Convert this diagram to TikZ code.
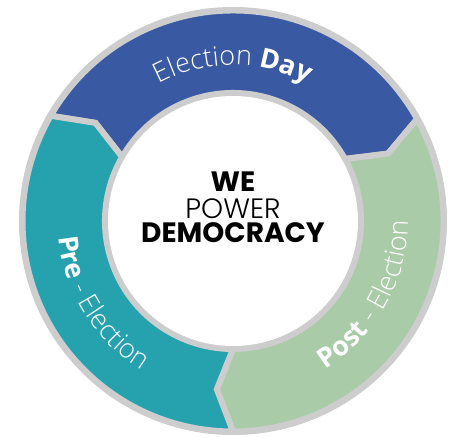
\documentclass[tikz,border=0pt]{standalone}
\usepackage{fontspec}
\setmainfont{Open Sans}
\newfontfamily\popfont{Poppins}
\IfFontExistsTF{Poppins Light}{\newfontfamily\poplight{Poppins Light}}{\newfontfamily\poplight{Poppins}}
\IfFontExistsTF{Open Sans Light}{\newfontfamily\ringlight{Open Sans Light}}{\newfontfamily\ringlight{Open Sans}}
\usetikzlibrary{decorations.text}
\definecolor{dayblue}{RGB}{58,89,163}
\definecolor{preteal}{RGB}{38,162,175}
\definecolor{postgreen}{RGB}{170,203,168}
\definecolor{ringgray}{RGB}{205,205,205}
\newcommand{\ringtext}{\fontsize{27pt}{27pt}\selectfont\ringlight}
\newcommand{\ringbold}{\fontsize{27pt}{27pt}\selectfont\rmfamily\bfseries}
\tikzset{
  segment/.style={draw=ringgray, line width=6pt, line join=miter},
  ringlabel/.style={decorate, decoration={text along path, text align=center, text color=white}},
  centerline/.style={inner sep=0pt, text=black}
}
\begin{document}
\begin{tikzpicture}[line cap=butt]
			\useasboundingbox (-233pt,-216pt) rectangle (224pt,221pt);
			\fill[ringgray] (0,0) circle (214pt);
			% three phases, arrow tips pointing clockwise
			\foreach \a/\b/\c in {150/29/dayblue, 29/-90/postgreen, -90/-210/preteal}
			\filldraw[segment, fill=\c]
			(\a:210.5pt) arc[start angle=\a, end angle=\b, radius=210.5pt]
			-- ({\b-5.5}:169pt) -- (\b:128pt)
			arc[start angle=\b, end angle=\a, radius=128pt]
			-- ({\a-5.5}:169pt) -- cycle;
			\fill[white] (0,0) circle (125pt);
			% labels on the ring
			\path[ringlabel, decoration={text={|\ringtext|Election |\ringbold|Day}}]
			(150:156pt) arc[start angle=150, end angle=30, radius=156pt];
			\path[ringlabel, decoration={text={|\ringbold|Pre|\ringtext| - Election}}]
			(152:175pt) arc[start angle=152, end angle=272, radius=175pt];
			\path[ringlabel, decoration={text={|\ringbold|Post|\ringtext| - Election}}]
			(-89:175pt) arc[start angle=-89, end angle=31, radius=175pt];
			% centre
			\node[centerline, font=\fontsize{28pt}{28pt}\selectfont\popfont\bfseries] (we) at (0pt,39pt) {WE};
			\node[centerline, font=\fontsize{28pt}{28pt}\selectfont\poplight] (power) at (0pt,12pt) {POWER};
			\node[centerline, font=\fontsize{28pt}{28pt}\selectfont\popfont\bfseries] (democracy) at (0pt,-12pt) {DEMOCRACY};
		\end{tikzpicture}
\end{document}
